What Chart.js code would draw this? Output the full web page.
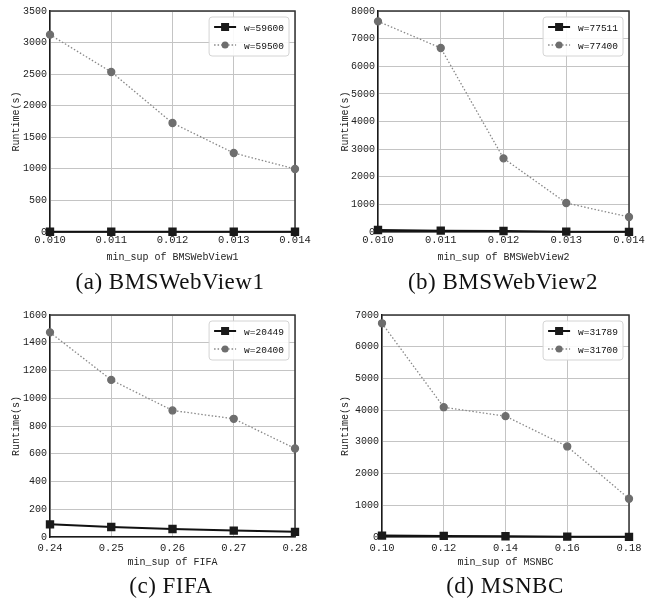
<!DOCTYPE html>
<html>
<head>
<meta charset="utf-8">
<script src="https://cdn.jsdelivr.net/npm/chart.js@4.4.0/dist/chart.umd.min.js"></script>
<style>
  body { margin: 0; background: #fff; }
  #page { position: relative; width: 656px; height: 601px; }
  .panel { position: absolute; width: 328px; height: 300px; }
  .caption { position: absolute; font-family: "Liberation Serif", "DejaVu Serif", serif; font-size: 23px; letter-spacing: 0.5px; color: #111; transform: translate(-50%, -50%); white-space: nowrap; }
</style>
</head>
<body>
<div id="page">
  <div class="panel" style="left:0;top:0"><canvas id="chartA" width="328" height="300"></canvas></div>
  <div class="panel" style="left:328px;top:0"><canvas id="chartB" width="328" height="300"></canvas></div>
  <div class="panel" style="left:0;top:300px"><canvas id="chartC" width="328" height="300"></canvas></div>
  <div class="panel" style="left:328px;top:300px"><canvas id="chartD" width="328" height="300"></canvas></div>
  <div class="caption" style="left:170px;top:282px">(a) BMSWebView1</div>
  <div class="caption" style="left:503px;top:282px">(b) BMSWebView2</div>
  <div class="caption" style="left:171px;top:586px">(c) FIFA</div>
  <div class="caption" style="left:505px;top:586px">(d) MSNBC</div>
</div>
<script>
// (a) BMSWebView1
const supA = ['0.010', '0.011', '0.012', '0.013', '0.014'];
const runA_59600 = [4, 4, 4, 4, 4];
const runA_59500 = [3125, 2534, 1726, 1251, 998];

// (b) BMSWebView2
const supB = ['0.010', '0.011', '0.012', '0.013', '0.014'];
const runB_77511 = [72, 48, 36, 12, 5];
const runB_77400 = [7626, 6661, 2667, 1050, 543];

// (c) FIFA
const supC = ['0.24', '0.25', '0.26', '0.27', '0.28'];
const runC_20449 = [91, 72, 58, 46, 37];
const runC_20400 = [1475, 1132, 912, 852, 638];

// (d) MSNBC
const supD = ['0.10', '0.12', '0.14', '0.16', '0.18'];
const runD_31789 = [45, 35, 25, 10, 5];
const runD_31700 = [6738, 4093, 3810, 2855, 1207];

const monoFont = "'Liberation Mono', 'DejaVu Sans Mono', monospace";

/* plugin: dark frame on top/right, and a boxed legend in the top right corner */
const frameLegend = {
    id: 'frameLegend',
    beforeDatasetsDraw(chart) {
        const ctx = chart.ctx, a = chart.chartArea;
        ctx.save();
        ctx.strokeStyle = '#333';
        ctx.lineWidth = 1.5;
        ctx.beginPath();
        ctx.moveTo(a.left, a.top);
        ctx.lineTo(a.right, a.top);
        ctx.lineTo(a.right, a.bottom);
        ctx.stroke();
        ctx.restore();
    },
    afterDraw(chart) {
        const ctx = chart.ctx, a = chart.chartArea;
        const sets = chart.data.datasets;
        ctx.save();
        ctx.font = '9.5px ' + monoFont;
        let tw = 0;
        sets.forEach(d => { tw = Math.max(tw, ctx.measureText(d.label).width); });
        const w = 5 + 22 + 8 + tw + 5, h = 39;
        const x0 = a.right - 6 - w, y0 = a.top + 6;
        ctx.beginPath();
        ctx.roundRect(x0, y0, w, h, 3);
        ctx.fillStyle = 'rgba(255,255,255,0.9)';
        ctx.fill();
        ctx.strokeStyle = '#d4d4d4';
        ctx.lineWidth = 1;
        ctx.stroke();
        sets.forEach((d, i) => {
            const y = y0 + 10 + i * 18;
            ctx.beginPath();
            ctx.setLineDash(d.borderDash || []);
            ctx.strokeStyle = d.borderColor;
            ctx.lineWidth = d.borderWidth;
            ctx.moveTo(x0 + 5, y);
            ctx.lineTo(x0 + 27, y);
            ctx.stroke();
            ctx.setLineDash([]);
            ctx.fillStyle = d.pointBackgroundColor;
            if (d.pointStyle === 'rect') {
                ctx.fillRect(x0 + 16 - 4, y - 4, 8, 8);
            } else {
                ctx.beginPath();
                ctx.arc(x0 + 16, y, d.pointRadius, 0, Math.PI * 2);
                ctx.fill();
            }
            ctx.fillStyle = '#111';
            ctx.textBaseline = 'middle';
            ctx.textAlign = 'left';
            ctx.fillText(d.label, x0 + 35, y + 1);
        });
        ctx.restore();
    }
};

function solidSeries(label, data) {
    return {
        label: label, data: data,
        borderColor: '#111', borderWidth: 2,
        pointStyle: 'rect', pointRadius: 4.5, pointBackgroundColor: '#1a1a1a', pointBorderColor: '#1a1a1a',
        clip: false
    };
}

function dottedSeries(label, data) {
    return {
        label: label, data: data,
        borderColor: '#888', borderWidth: 1.3, borderDash: [1.5, 2],
        pointStyle: 'circle', pointRadius: 3.5, pointBackgroundColor: '#6e6e6e', pointBorderColor: '#6e6e6e',
        clip: false
    };
}

function makeChart(id, labels, sets, yMax, yStep, xTitle, pad, yWidth, titlePad, xTickPad) {
    const ctx = document.getElementById(id).getContext('2d');
    return new Chart(ctx, {
        type: 'line',
        data: { labels: labels, datasets: sets },
        options: {
            responsive: false,
            animation: false,
            layout: { padding: pad },
            plugins: { legend: { display: false }, tooltip: { enabled: false } },
            scales: {
                x: {
                    offset: false,
                    grid: { color: '#c4c4c4', lineWidth: 1, drawTicks: false },
                    border: { color: '#1a1a1a', width: 1.5 },
                    ticks: { color: '#222', padding: xTickPad, font: { family: monoFont, size: 10.5 }, maxRotation: 0 },
                    title: { display: true, text: xTitle, color: '#222', padding: { top: 0, bottom: 0 }, font: { family: monoFont, size: 10 } },
                    afterFit: s => { s.height = 31; }
                },
                y: {
                    min: 0, max: yMax,
                    grid: { color: '#c4c4c4', lineWidth: 1, drawTicks: false },
                    border: { color: '#1a1a1a', width: 1.5 },
                    ticks: { stepSize: yStep, color: '#222', padding: 3, font: { family: monoFont, size: 10 },
                             callback: v => String(v) },
                    title: { display: true, text: 'Runtime(s)', color: '#222', padding: titlePad, font: { family: monoFont, size: 10 } },
                    afterFit: s => { s.width = yWidth; }
                }
            }
        },
        plugins: [frameLegend]
    });
}

makeChart('chartA', supA,
    [solidSeries('w=59600', runA_59600), dottedSeries('w=59500', runA_59500)],
    3500, 500, 'min_sup of BMSWebView1', { left: 0, right: 33, top: 11, bottom: 37 }, 50, 10, 2);

makeChart('chartB', supB,
    [solidSeries('w=77511', runB_77511), dottedSeries('w=77400', runB_77400)],
    8000, 1000, 'min_sup of BMSWebView2', { left: 0, right: 27, top: 11, bottom: 37 }, 50, 11, 2);

makeChart('chartC', supC,
    [solidSeries('w=20449', runC_20449), dottedSeries('w=20400', runC_20400)],
    1600, 200, 'min_sup of FIFA', { left: 0, right: 33, top: 15, bottom: 32 }, 50, 10, 5);

makeChart('chartD', supD,
    [solidSeries('w=31789', runD_31789), dottedSeries('w=31700', runD_31700)],
    7000, 1000, 'min_sup of MSNBC', { left: 0, right: 27, top: 15, bottom: 32 }, 54, 11, 5);
</script>
</body>
</html>
